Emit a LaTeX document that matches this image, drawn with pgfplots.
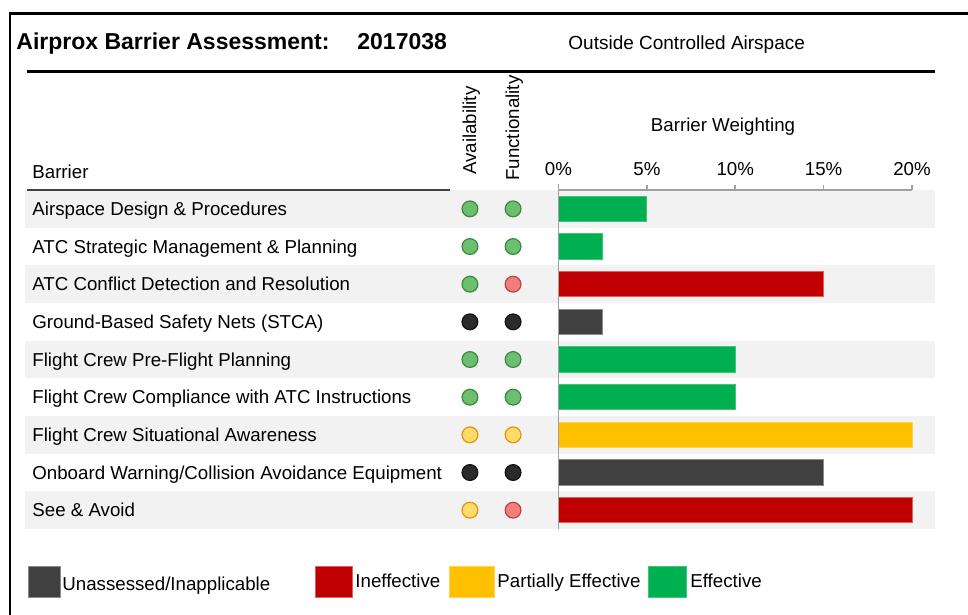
\documentclass[border=0pt]{standalone}
\usepackage{pgfplots}
\pgfplotsset{compat=1.18}
\usepackage{fontspec}
\setmainfont{Liberation Sans}
\definecolor{cGreen}{HTML}{00B050}
\definecolor{cGreenB}{HTML}{3CC878}
\definecolor{cRed}{HTML}{C00000}
\definecolor{cRedB}{HTML}{E06060}
\definecolor{cYellow}{HTML}{FFC000}
\definecolor{cYellowB}{HTML}{FFD34D}
\definecolor{cDark}{HTML}{404040}
\definecolor{cDarkB}{HTML}{8A8A8A}
\definecolor{band}{HTML}{F2F2F2}
\definecolor{axgray}{HTML}{A0A0A0}
\definecolor{dGreenF}{HTML}{6CBF6E}
\definecolor{dGreenD}{HTML}{3A8A3E}
\definecolor{dRedF}{HTML}{F27D7D}
\definecolor{dRedD}{HTML}{B84545}
\definecolor{dYelF}{HTML}{FFDC6A}
\definecolor{dYelD}{HTML}{E8900A}
\definecolor{dBlkF}{HTML}{2B2B2B}
\definecolor{dBlkD}{HTML}{111111}
\newcommand\fs{\fontsize{9.35}{11}\selectfont}
\begin{document}
\begin{tikzpicture}
\begin{scope}[x=0.5pt,y=-0.5pt]
\path[use as bounding box] (0,0) rectangle (968,615);
\draw[line width=1.3pt] (9,13.5) -- (968,13.5);
\draw[line width=1.3pt] (10,13) -- (10,615);
\node[anchor=base west, inner sep=0pt, font=\fontsize{11.5}{13}\selectfont\bfseries] at (16,50) {Airprox Barrier Assessment:};
\node[anchor=base west, inner sep=0pt, font=\fontsize{11.5}{13}\selectfont\bfseries] at (357,50) {2017038};
\node[anchor=base west, inner sep=0pt, font=\fontsize{9.5}{11}\selectfont] at (568,50) {Outside Controlled Airspace};
\draw[line width=1.5pt] (27,71.5) -- (935,71.5);
\node[anchor=base west, inner sep=0pt, font=\fs] at (32,178) {Barrier};
\draw[line width=0.8pt, color=cDark] (27,190) -- (450,190);
\node[anchor=base west, rotate=90, inner sep=0pt, font=\fs] at (476,175) {Availability};
\node[anchor=base west, rotate=90, inner sep=0pt, font=\fs] at (519,181) {Functionality};
\node[anchor=base, inner sep=0pt, font=\fs] at (723,132) {Barrier Weighting};
% legend
\filldraw[fill=cDark, draw=cDarkB, line width=0.4pt] (28,566) rectangle (60,597);
\node[anchor=base west, inner sep=0pt, font=\fs] at (62,590) {Unassessed/Inapplicable};
\filldraw[fill=cRed, draw=cRedB, line width=0.4pt] (315,566) rectangle (352,597);
\node[anchor=base west, inner sep=0pt, font=\fs] at (355,587) {Ineffective};
\filldraw[fill=cYellow, draw=cYellowB, line width=0.4pt] (449,566) rectangle (494,597);
\node[anchor=base west, inner sep=0pt, font=\fs] at (497,587) {Partially Effective};
\filldraw[fill=cGreen, draw=cGreenB, line width=0.4pt] (648,566) rectangle (686,597);
\node[anchor=base west, inner sep=0pt, font=\fs] at (690,587) {Effective};
\end{scope}
\begin{axis}[
  at={(12.5pt,-264.5pt)}, anchor=south west,
  scale only axis, width=455pt, height=169.5pt,
  xmin=-30.18, xmax=21.3, ymin=0.5, ymax=9.5, y dir=reverse,
  set layers, clip=false,
  axis line style={draw=none},
  xtick={0,5,10,15,20}, xticklabels={0\%,5\%,10\%,15\%,20\%},
  xtick pos=upper, xticklabel pos=upper,
  tick align=outside, major tick length=2.5pt,
  xtick style={draw=axgray, line width=0.8pt},
  xticklabel style={font=\fs, yshift=1pt},
  ytick={1,...,9},
  yticklabels={Airspace Design \& Procedures, ATC Strategic Management \& Planning, ATC Conflict Detection and Resolution, Ground-Based Safety Nets (STCA), Flight Crew Pre-Flight Planning, Flight Crew Compliance with ATC Instructions, Flight Crew Situational Awareness, Onboard Warning/Collision Avoidance Equipment, See \& Avoid},
  ytick style={draw=none},
  yticklabel style={anchor=base west, inner sep=0pt, xshift=6pt, yshift=-3.4pt, font=\fs},
  mybar/.style={xbar, bar width=0.67, bar shift=0pt, line width=0.5pt},
  dot/.style={only marks, mark=*, mark size=3.95pt, line width=0.6pt},
]
\begin{pgfonlayer}{axis background}
\fill[band] (axis cs:-30.18,0.5) rectangle (axis cs:21.3,1.5);
\fill[band] (axis cs:-30.18,2.5) rectangle (axis cs:21.3,3.5);
\fill[band] (axis cs:-30.18,4.5) rectangle (axis cs:21.3,5.5);
\fill[band] (axis cs:-30.18,6.5) rectangle (axis cs:21.3,7.5);
\fill[band] (axis cs:-30.18,8.5) rectangle (axis cs:21.3,9.5);
\end{pgfonlayer}
% bars
\addplot[mybar, fill=cGreen, draw=cGreenB] coordinates {(5,1) (2.5,2) (10,5) (10,6)};
\addplot[mybar, fill=cRed, draw=cRedB] coordinates {(15,3) (20,9)};
\addplot[mybar, fill=cDark, draw=cDarkB] coordinates {(2.5,4) (15,8)};
\addplot[mybar, fill=cYellow, draw=cYellowB] coordinates {(20,7)};
% availability / functionality dots
\addplot[dot, mark options={fill=dGreenF, draw=dGreenD}] coordinates {(-5.01,1) (-2.57,1) (-5.01,2) (-2.57,2) (-5.01,3) (-5.01,5) (-2.57,5) (-5.01,6) (-2.57,6)};
\addplot[dot, mark options={fill=dRedF, draw=dRedD}] coordinates {(-2.57,3) (-2.57,9)};
\addplot[dot, mark options={fill=dBlkF, draw=dBlkD}] coordinates {(-5.01,4) (-2.57,4) (-5.01,8) (-2.57,8)};
\addplot[dot, mark options={fill=dYelF, draw=dYelD}] coordinates {(-5.01,7) (-2.57,7) (-5.01,9)};
% axis lines
\draw[axgray, line width=0.9pt] (axis cs:0,0.34) -- (axis cs:0,9.5);
\draw[axgray, line width=0.9pt] (axis cs:0,0.5) -- (axis cs:20,0.5);
\end{axis}
\end{tikzpicture}
\end{document}
